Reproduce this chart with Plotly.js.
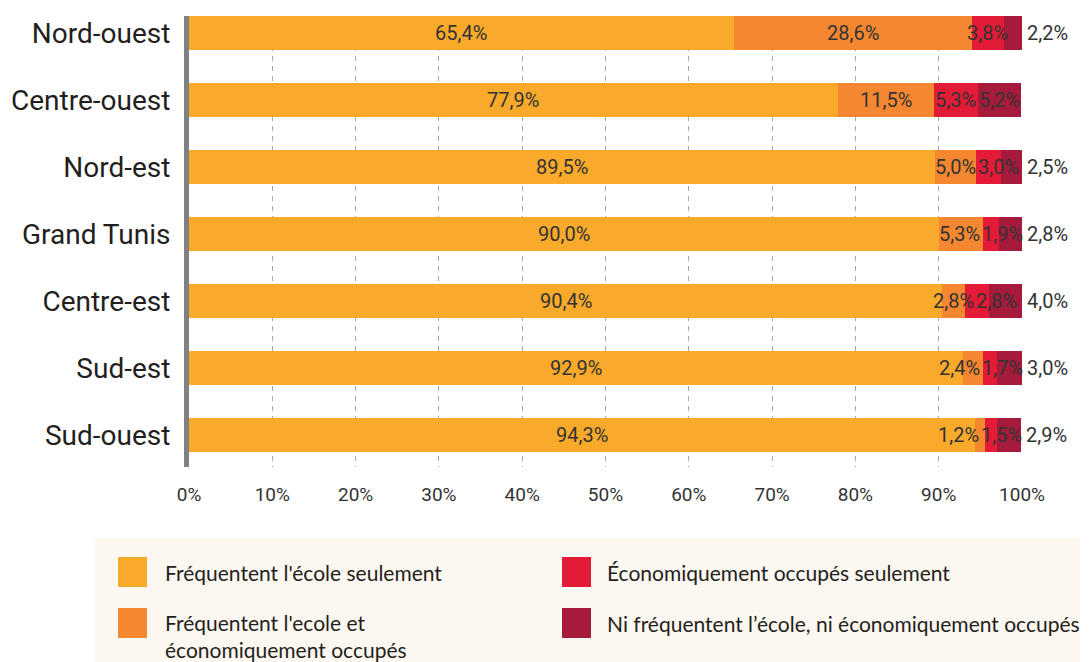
<!DOCTYPE html>
<html>
<head>
<meta charset="utf-8">
<script src="https://cdn.plot.ly/plotly-3.0.1.min.js"></script>
<style>html,body{margin:0;padding:0;background:#fff;}#chart{width:1089px;height:662px;}</style>
</head>
<body>
<div id="chart"></div>
<script>
// ---- Data ----
const categories = ['Nord-ouest', 'Centre-ouest', 'Nord-est', 'Grand Tunis', 'Centre-est', 'Sud-est', 'Sud-ouest'];
const schoolOnly    = [65.4, 77.9, 89.5, 90.0, 90.4, 92.9, 94.3];
const schoolAndWork = [28.6, 11.5, 5.0, 5.3, 2.8, 2.4, 1.2];
const workOnly      = [3.8, 5.3, 3.0, 1.9, 2.8, 1.7, 1.5];
const neither       = [2.2, 5.2, 2.5, 2.8, 4.0, 3.0, 2.9];
const seriesNames = [
  "Fréquentent l'école seulement",
  "Fréquentent l'ecole et<br>économiquement occupés",
  "Économiquement occupés seulement",
  "Ni fréquentent l’école, ni économiquement occupés"
];
const xTickValues = [0, 10, 20, 30, 40, 50, 60, 70, 80, 90, 100];
const xTickLabels = ['0%', '10%', '20%', '30%', '40%', '50%', '60%', '70%', '80%', '90%', '100%'];

// ---- Style / layout config ----
const colors = ['#F9AA2B', '#F4872F', '#E31B37', '#A61B3B'];
const W = 1089, H = 662;
const M = {l: 189, r: 67, t: 16, b: 195};
const PW = W - M.l - M.r, PH = H - M.t - M.b;
const pxPerUnit = PW / 100;
const lastLabelInside = ['Centre-ouest'];
const labelFont = {family: 'Roboto, sans-serif', size: 20, color: '#333333'};
const legendFont = {family: 'Lato, sans-serif', size: 21, color: '#231F20'};

const series = [schoolOnly, schoolAndWork, workOnly, neither];
const fmt = v => v.toFixed(1).replace('.', ',') + '%';

const canvas = document.createElement('canvas');
const ctx = canvas.getContext('2d');
ctx.font = '20px Roboto';
const measure = t => ctx.measureText(t).width;

const traces = series.map((vals, i) => ({
  type: 'bar', orientation: 'h', y: categories, x: vals,
  name: seriesNames[i].replace('<br>', ' '),
  marker: {color: colors[i], line: {width: 0}},
  hoverinfo: 'skip', showlegend: false
}));

// ---- Value labels (annotations anchored at segment centres, de-overlapped) ----
const annotations = [];
const gap = 2;
categories.forEach((cat, r) => {
  let cum = 0;
  const segs = series.map(s => { const v = s[r]; const c = cum + v / 2; cum += v; return {v, c}; });
  const total = Math.min(100, Math.round(cum * 10) / 10);
  const outside = !lastLabelInside.includes(cat);
  const nIn = outside ? 3 : 4;
  const pos = [];
  let prevRight = -Infinity;
  for (let i = 0; i < nIn; i++) {
    const w = measure(fmt(segs[i].v));
    const cpx = segs[i].c * pxPerUnit;
    const left = Math.max(cpx - w / 2, prevRight + gap);
    pos.push({left, w});
    prevRight = left + w;
  }
  let lim = total * pxPerUnit + 1;
  for (let i = nIn - 1; i >= 0; i--) {
    if (pos[i].left + pos[i].w > lim) pos[i].left = lim - pos[i].w;
    lim = pos[i].left - gap;
  }
  for (let i = 0; i < nIn; i++) {
    annotations.push({
      xref: 'x', yref: 'y', x: segs[i].c, y: cat, showarrow: false,
      text: fmt(segs[i].v), font: labelFont, xanchor: 'center', yanchor: 'middle',
      xshift: (pos[i].left + pos[i].w / 2) - segs[i].c * pxPerUnit
    });
  }
  if (outside) {
    annotations.push({
      xref: 'x', yref: 'y', x: total, y: cat, showarrow: false,
      text: fmt(segs[3].v), font: labelFont, xanchor: 'left', yanchor: 'middle', xshift: 3
    });
  }
});

// ---- Manual legend ----
const px = x => (x - M.l) / PW;
const py = y => (H - M.b - y) / PH;
const shapes = [{
  type: 'rect', xref: 'paper', yref: 'paper', layer: 'below',
  x0: px(95), x1: px(1080), y0: py(538), y1: py(663),
  fillcolor: '#FCF7F0', line: {width: 0}
}];
const legendSlots = [
  {sx: 118, sy: 557, tx: 163, ty: 572},
  {sx: 118, sy: 608, tx: 163, ty: 635.5},
  {sx: 562, sy: 557, tx: 605, ty: 572},
  {sx: 562, sy: 608, tx: 605, ty: 623}
];
seriesNames.forEach((name, i) => {
  const s = legendSlots[i];
  shapes.push({
    type: 'rect', xref: 'paper', yref: 'paper',
    x0: px(s.sx), x1: px(s.sx + 29), y0: py(s.sy), y1: py(s.sy + 30),
    fillcolor: colors[i], line: {width: 0}
  });
  annotations.push({
    xref: 'paper', yref: 'paper', x: px(s.tx), y: py(s.ty), showarrow: false,
    text: name, font: legendFont, xanchor: 'left', yanchor: 'middle', align: 'left'
  });
});

const layout = {
  width: W, height: H, margin: M,
  paper_bgcolor: '#ffffff', plot_bgcolor: 'rgba(0,0,0,0)',
  barmode: 'stack', bargap: 0.5, showlegend: false,
  separators: ', ',
  xaxis: {
    range: [0, 100], tickmode: 'array', tickvals: xTickValues, ticktext: xTickLabels,
    showgrid: true, gridcolor: '#A8A8A8', gridwidth: 1, griddash: '5px,5px',
    zeroline: false, showline: false, ticks: '', ticklabelstandoff: 14,
    tickfont: {family: 'Roboto, sans-serif', size: 19, color: '#333333'}
  },
  yaxis: {
    type: 'category', categoryorder: 'array', categoryarray: categories,
    range: [6.478, -0.254], autorange: false,
    showline: true, linecolor: '#808085', linewidth: 5,
    showgrid: false, zeroline: false, ticks: '', ticklabelstandoff: 8,
    tickfont: {family: 'Roboto, sans-serif', size: 28, color: '#231F20'}
  },
  shapes: shapes,
  annotations: annotations
};

Plotly.newPlot('chart', traces, layout, {displayModeBar: false, staticPlot: true});
</script>
</body>
</html>
